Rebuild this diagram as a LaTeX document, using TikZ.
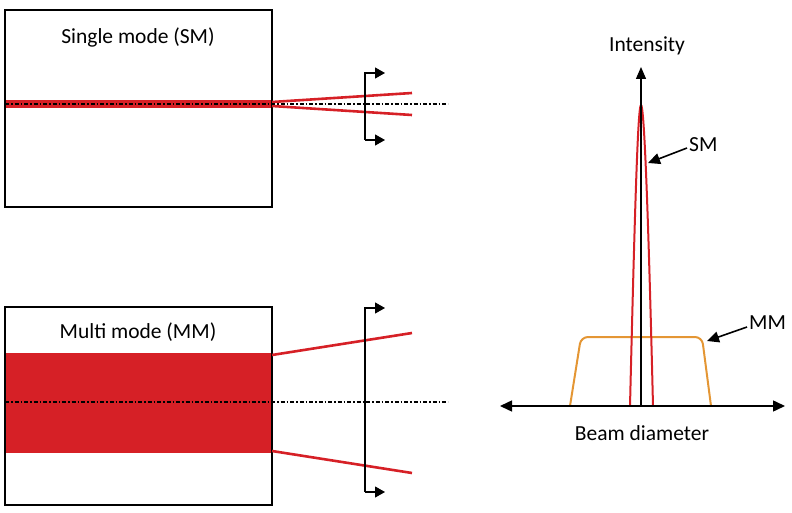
\documentclass[tikz,border=0pt]{standalone}
\usepackage{fontspec}
\setmainfont{Carlito}
\usetikzlibrary{arrows.meta}
\definecolor{beamred}{RGB}{214,32,38}
\definecolor{mmorange}{RGB}{228,150,52}
\begin{document}
\begin{tikzpicture}[x=1pt,y=-1pt]
\tikzstyle{fiber}=[draw, line width=1.3pt]
\tikzstyle{axisline}=[dash pattern=on 4pt off 2pt on 1.5pt off 2pt, line width=1.5pt]
\tikzstyle{ray}=[beamred, line width=2.6pt]
\tikzstyle{screen}=[line width=1.1pt, -{Triangle[length=10pt,width=11pt]}]
\tikzstyle{label}=[font=\fontsize{21.5}{25}\selectfont, inner sep=0pt]
\tikzstyle{pointer}=[line width=1.6pt, -{Triangle[length=12pt,width=11pt]}]
    \useasboundingbox (0,0) rectangle (792,513);

    % single mode fiber
    \fill[beamred] (5,100) rectangle (272,108);
    \draw[fiber] (5,10) rectangle (272,207);
    \node[label] (smtitle) at (138,37) {Single mode (SM)};
    \coordinate (smout1) at (272,102);
    \coordinate (smout2) at (272,106);
    \coordinate (smend1) at (412,93);
    \coordinate (smend2) at (412,115);
    \draw[ray] (smout1) -- (smend1);
    \draw[ray] (smout2) -- (smend2);
    \draw[axisline] (5,104) -- (448,104);
    \coordinate (smtop) at (365,73);
    \coordinate (smbot) at (365,140);
    \draw[screen] (smbot) -- (smtop) -- ++(20,0);
    \draw[screen] (smbot) -- ++(20,0);

    % multi mode fiber
    \fill[beamred] (5,353) rectangle (272,453);
    \draw[fiber] (5,307) rectangle (272,505);
    \node[label] (mmtitle) at (138,332) {Multi mode (MM)};
    \coordinate (mmout1) at (272,355);
    \coordinate (mmout2) at (272,451);
    \coordinate (mmend1) at (412,333);
    \coordinate (mmend2) at (412,473);
    \draw[ray] (mmout1) -- (mmend1);
    \draw[ray] (mmout2) -- (mmend2);
    \draw[axisline] (5,402) -- (448,402);
    \coordinate (mmtop) at (365,308);
    \coordinate (mmbot) at (365,492);
    \draw[screen] (mmbot) -- (mmtop) -- ++(20,0);
    \draw[screen] (mmbot) -- ++(20,0);

    % beam profiles
    \coordinate (origin) at (641,406);
    \coordinate (xleft) at (500,406);
    \coordinate (xright) at (785,406);
    \coordinate (ytop) at (641,67);
    \draw[mmorange, line width=2pt, rounded corners=7pt] (570,406) -- (581,337) -- (702,337) -- (711,406);
    \draw[beamred, line width=2pt] (630,406) .. controls (635,200) and (638,105) .. (641,105)
        .. controls (644,105) and (648,200) .. (653,406);
    \draw[line width=1.5pt, {Triangle[length=12pt,width=11pt]}-{Triangle[length=12pt,width=11pt]}] (xleft) -- (xright);
    \draw[line width=1.3pt, -{Triangle[length=12pt,width=10pt]}] (origin) -- (ytop);
    \node[label] (intensity) at (647,46) {Intensity};
    \node[label] (beamdia) at (642,433) {Beam diameter};
    \node[label, anchor=west] (smlabel) at (689,145) {SM};
    \node[label, anchor=west] (mmlabel) at (749,323) {MM};
    \draw[pointer] (smlabel.west) ++(-2,3) -- (648,163);
    \draw[pointer] (mmlabel.west) ++(-2,4) -- (707,341);
\end{tikzpicture}
\end{document}
